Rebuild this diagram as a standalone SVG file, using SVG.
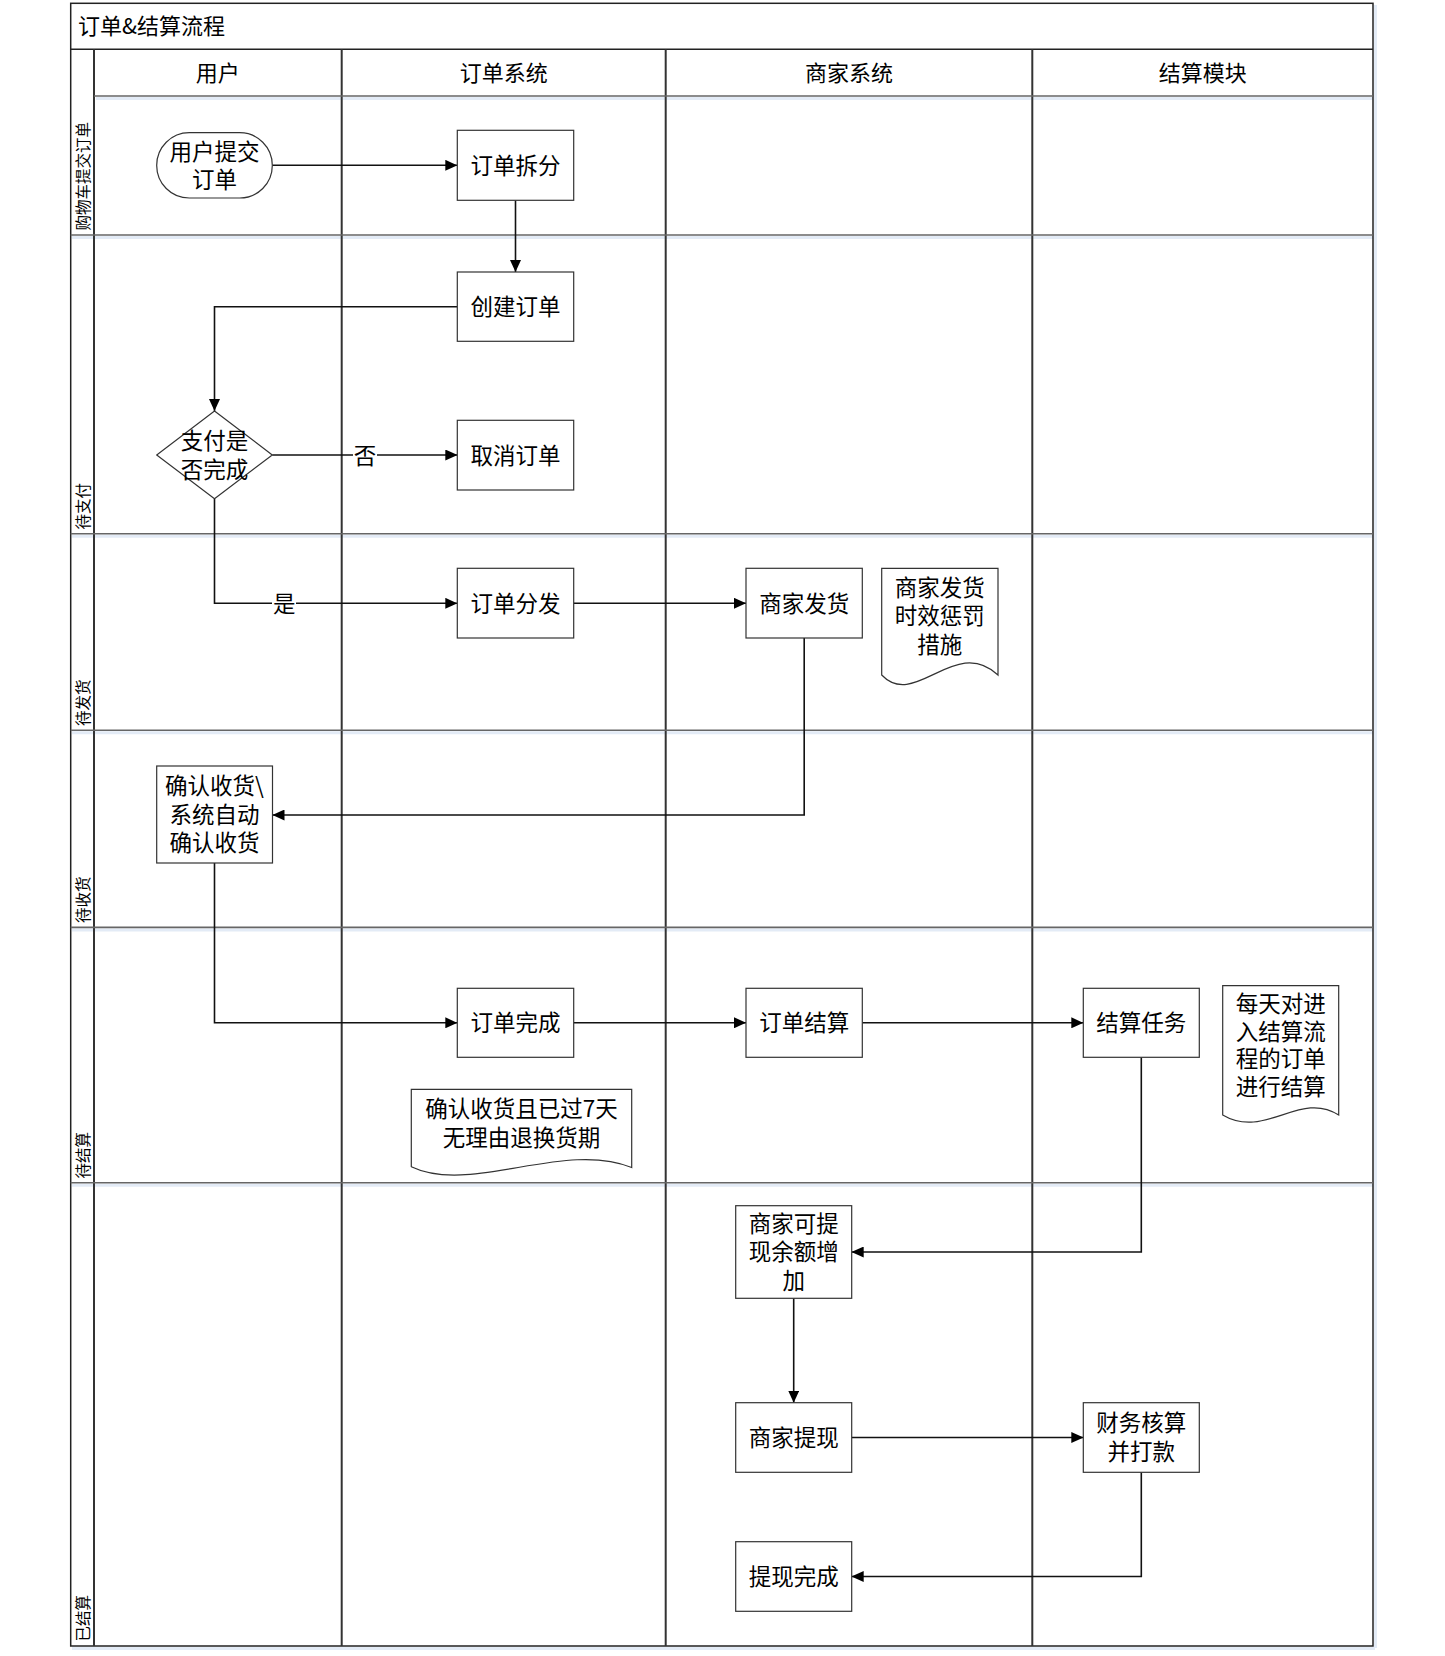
<svg xmlns="http://www.w3.org/2000/svg" width="1445" height="1656" viewBox="0 0 1445 1656">
  <style>
    text { font-family: "Noto Sans CJK SC", "Noto Sans", "Liberation Sans", sans-serif; fill: #000; }
    .title { font-size: 22px; transform: translateY(-2px); }
    .head { font-size: 22px; text-anchor: middle; dominant-baseline: central; transform: translateY(-1.5px); }
    .lane { font-size: 15.5px; dominant-baseline: central; }
    .lbl { font-size: 22.5px; text-anchor: middle; dominant-baseline: central; transform: translateY(-1.5px); }
    .box { fill: #fff; stroke: #333; stroke-width: 1.2; }
    .frame { fill: none; stroke: #222; stroke-width: 1.5; }
    .col { stroke: #333; stroke-width: 2; }
    .row { stroke: #666; stroke-width: 1.6; }
    .shade { stroke: #e3ebf6; stroke-width: 3; }
    .conn { fill: none; stroke: #111; stroke-width: 1.6; }
    .tag { fill: #fff; }
  </style>
  <defs>
    <marker id="arrow" markerUnits="userSpaceOnUse" markerWidth="12" markerHeight="11" refX="12" refY="5.5" orient="auto">
      <path d="M0,0 L12,5.5 L0,11 z" fill="#000"/>
    </marker>
  </defs>

  <rect width="1445" height="1656" fill="#fff"/>

  <!-- pool frame, title bar, lanes and columns -->
  <g id="pool">
    <line class="shade" x1="96" y1="98.5" x2="1373" y2="98.5"/>
    <line class="shade" x1="72" y1="237.5" x2="1373" y2="237.5"/>
    <line class="shade" x1="72" y1="536.2" x2="1373" y2="536.2"/>
    <line class="shade" x1="72" y1="732.8" x2="1373" y2="732.8"/>
    <line class="shade" x1="72" y1="929.9" x2="1373" y2="929.9"/>
    <line class="shade" x1="72" y1="1185.2" x2="1373" y2="1185.2"/>
    <line class="shade" x1="72" y1="1648.5" x2="1375" y2="1648.5"/>
    <line class="shade" x1="1375.5" y1="5" x2="1375.5" y2="1648"/>

    <rect class="frame" x="70.7" y="3.3" width="1302.3" height="1642.7"/>
    <line class="frame" x1="70.7" y1="49.3" x2="1373" y2="49.3"/>
    <line class="col" x1="94" y1="49.3" x2="94" y2="1646"/>
    <line class="col" x1="341.7" y1="49.3" x2="341.7" y2="1646"/>
    <line class="col" x1="665.7" y1="49.3" x2="665.7" y2="1646"/>
    <line class="col" x1="1032.3" y1="49.3" x2="1032.3" y2="1646"/>
    <line class="row" x1="94" y1="96" x2="1373" y2="96"/>
    <line class="row" x1="70.7" y1="235" x2="1373" y2="235"/>
    <line class="row" x1="70.7" y1="533.7" x2="1373" y2="533.7"/>
    <line class="row" x1="70.7" y1="730.3" x2="1373" y2="730.3"/>
    <line class="row" x1="70.7" y1="927.4" x2="1373" y2="927.4"/>
    <line class="row" x1="70.7" y1="1182.7" x2="1373" y2="1182.7"/>

    <text class="title" x="78" y="26" dominant-baseline="central">订单&amp;结算流程</text>

    <text class="head" x="217.8" y="72">用户</text>
    <text class="head" x="503.7" y="72">订单系统</text>
    <text class="head" x="849" y="72">商家系统</text>
    <text class="head" x="1202.7" y="72">结算模块</text>

    <text class="lane" transform="translate(82.3,230.5) rotate(-90)">购物车提交订单</text>
    <text class="lane" transform="translate(82.3,529.5) rotate(-90)">待支付</text>
    <text class="lane" transform="translate(82.3,726) rotate(-90)">待发货</text>
    <text class="lane" transform="translate(82.3,923) rotate(-90)">待收货</text>
    <text class="lane" transform="translate(82.3,1178.5) rotate(-90)">待结算</text>
    <text class="lane" transform="translate(82.3,1641.5) rotate(-90)">已结算</text>
  </g>

  <!-- connectors -->
  <g id="connectors">
    <path class="conn" d="M272.3,165.3 H457.3" marker-end="url(#arrow)"/>
    <path class="conn" d="M515.5,200.3 V272" marker-end="url(#arrow)"/>
    <path class="conn" d="M457.3,306.7 H214.5 V411" marker-end="url(#arrow)"/>
    <path class="conn" d="M272.3,455 H457.3" marker-end="url(#arrow)"/>
    <path class="conn" d="M214.5,498.7 V603.3 H457.3" marker-end="url(#arrow)"/>
    <path class="conn" d="M573.7,603.3 H746" marker-end="url(#arrow)"/>
    <path class="conn" d="M804.2,638 V815 H272.5" marker-end="url(#arrow)"/>
    <path class="conn" d="M214.5,863 V1022.8 H457.3" marker-end="url(#arrow)"/>
    <path class="conn" d="M573.7,1022.8 H746" marker-end="url(#arrow)"/>
    <path class="conn" d="M862.3,1022.8 H1083.3" marker-end="url(#arrow)"/>
    <path class="conn" d="M1141.3,1057.3 V1252 H851.7" marker-end="url(#arrow)"/>
    <path class="conn" d="M793.7,1298.3 V1402.7" marker-end="url(#arrow)"/>
    <path class="conn" d="M851.7,1437.5 H1083.3" marker-end="url(#arrow)"/>
    <path class="conn" d="M1141.3,1472.3 V1576.5 H851.7" marker-end="url(#arrow)"/>

    <rect class="tag" x="353" y="443" width="24" height="24"/>
    <text class="lbl" x="365" y="455">否</text>
    <rect class="tag" x="272" y="591" width="24" height="24"/>
    <text class="lbl" x="284.3" y="603.3">是</text>
  </g>

  <!-- nodes -->
  <g id="n-submit">
    <rect class="box" x="156.7" y="132.7" width="115.6" height="65.3" rx="32.6" ry="32.6"/>
    <text class="lbl" x="214.5" y="151">用户提交</text>
    <text class="lbl" x="214.5" y="179.5">订单</text>
  </g>
  <g id="n-split">
    <rect class="box" x="457.3" y="130.3" width="116.4" height="70"/>
    <text class="lbl" x="515.5" y="165.3">订单拆分</text>
  </g>
  <g id="n-create">
    <rect class="box" x="457.3" y="272" width="116.4" height="69.3"/>
    <text class="lbl" x="515.5" y="306.7">创建订单</text>
  </g>
  <g id="n-paid">
    <polygon class="box" points="214.5,411 272.3,455 214.5,498.7 156.7,455"/>
    <text class="lbl" x="214.5" y="440.5">支付是</text>
    <text class="lbl" x="214.5" y="469">否完成</text>
  </g>
  <g id="n-cancel">
    <rect class="box" x="457.3" y="420.3" width="116.4" height="69.7"/>
    <text class="lbl" x="515.5" y="455">取消订单</text>
  </g>
  <g id="n-dispatch">
    <rect class="box" x="457.3" y="568.3" width="116.4" height="69.7"/>
    <text class="lbl" x="515.5" y="603.3">订单分发</text>
  </g>
  <g id="n-ship">
    <rect class="box" x="746" y="568.3" width="116.3" height="69.7"/>
    <text class="lbl" x="804.2" y="603.3">商家发货</text>
  </g>
  <g id="n-ship-note">
    <path class="box" d="M881.7,568.3 H998 V675 C955,635 915,710 881.7,675 Z"/>
    <text class="lbl" x="939.8" y="587">商家发货</text>
    <text class="lbl" x="939.8" y="615">时效惩罚</text>
    <text class="lbl" x="939.8" y="644">措施</text>
  </g>
  <g id="n-receive">
    <rect class="box" x="156.7" y="766" width="115.8" height="97"/>
    <text class="lbl" x="214.5" y="785.5">确认收货\</text>
    <text class="lbl" x="214.5" y="814">系统自动</text>
    <text class="lbl" x="214.5" y="842.5">确认收货</text>
  </g>
  <g id="n-done">
    <rect class="box" x="457.3" y="988.3" width="116.4" height="69"/>
    <text class="lbl" x="515.5" y="1022.8">订单完成</text>
  </g>
  <g id="n-done-note">
    <path class="box" d="M411.3,1089.3 H631.7 V1167.5 C565,1140 470,1195 411.3,1166.7 Z"/>
    <text class="lbl" x="521.5" y="1108.5">确认收货且已过7天</text>
    <text class="lbl" x="521.5" y="1137">无理由退换货期</text>
  </g>
  <g id="n-settle">
    <rect class="box" x="746" y="988.3" width="116.3" height="69"/>
    <text class="lbl" x="804.2" y="1022.8">订单结算</text>
  </g>
  <g id="n-task">
    <rect class="box" x="1083.3" y="988.3" width="116" height="69"/>
    <text class="lbl" x="1141.3" y="1022.8">结算任务</text>
  </g>
  <g id="n-task-note">
    <path class="box" d="M1222.7,985.7 H1338.7 V1115 C1300,1090 1265,1140 1222.7,1115 Z"/>
    <text class="lbl" x="1280.7" y="1003.5">每天对进</text>
    <text class="lbl" x="1280.7" y="1031">入结算流</text>
    <text class="lbl" x="1280.7" y="1058.5">程的订单</text>
    <text class="lbl" x="1280.7" y="1086">进行结算</text>
  </g>
  <g id="n-balance">
    <rect class="box" x="735.7" y="1205.7" width="116" height="92.6"/>
    <text class="lbl" x="793.7" y="1223">商家可提</text>
    <text class="lbl" x="793.7" y="1251.5">现余额增</text>
    <text class="lbl" x="793.7" y="1280">加</text>
  </g>
  <g id="n-withdraw">
    <rect class="box" x="735.7" y="1402.7" width="116" height="69.6"/>
    <text class="lbl" x="793.7" y="1437.5">商家提现</text>
  </g>
  <g id="n-pay">
    <rect class="box" x="1083.3" y="1402.7" width="116" height="69.6"/>
    <text class="lbl" x="1141.3" y="1422.5">财务核算</text>
    <text class="lbl" x="1141.3" y="1451">并打款</text>
  </g>
  <g id="n-finish">
    <rect class="box" x="735.7" y="1541.7" width="116" height="69.6"/>
    <text class="lbl" x="793.7" y="1576.5">提现完成</text>
  </g>
</svg>
